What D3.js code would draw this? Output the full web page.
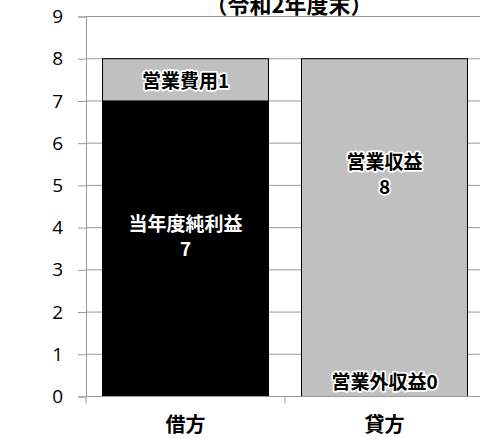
<!DOCTYPE html>
<html><head><meta charset="utf-8">
<script src="https://cdn.jsdelivr.net/npm/d3@7"></script>
<style>body{margin:0;background:#fff}svg{display:block}</style>
</head><body><svg id="c" width="480" height="438"></svg>
<script>
const categories = ["借方", "貸方"];
const seriesNames = ["当年度純利益", "営業費用", "営業収益", "営業外収益"];
const debitValues = [7, 1];      // 当年度純利益, 営業費用
const creditValues = [8, 0];     // 営業収益, 営業外収益
const yTicks = [0,1,2,3,4,5,6,7,8,9];
const title = "（令和2年度末）";

(function(){
const svg = d3.select("#c");
const mLeft = 86, mRight = 484, mTop = 16.5, mBottom = 396.5;
const x = d3.scaleBand().domain(categories).range([mLeft, mRight]).paddingInner(0.166).paddingOuter(0.083);
const y = d3.scaleLinear().domain([0, 9]).range([mBottom, mTop]);
const grid = "#9a9a9a";
const jp = "'Noto Sans CJK JP', sans-serif";

// gridlines
svg.append("g").selectAll("line").data(yTicks.filter(d=>d>0)).join("line")
  .attr("x1", mLeft).attr("x2", 480).attr("y1", d=>y(d)).attr("y2", d=>y(d))
  .attr("stroke", grid).attr("stroke-width", 1);

// y axis
const ya = svg.append("g").attr("transform", `translate(${mLeft},0)`)
  .call(d3.axisLeft(y).tickValues(yTicks).tickSize(8).tickPadding(15));
ya.select(".domain").attr("stroke", grid);
ya.selectAll(".tick line").attr("stroke", grid);
ya.selectAll("text").attr("font-family", "'Open Sans', 'Liberation Sans', sans-serif")
  .attr("font-size", 19).attr("fill", "#000");

// stacks
const stacks = [
  {cat: categories[0], segs: [{name: seriesNames[0], v: debitValues[0], fill: "#000"}, {name: seriesNames[1], v: debitValues[1], fill: "#c0c0c0"}]},
  {cat: categories[1], segs: [{name: seriesNames[2], v: creditValues[0], fill: "#c0c0c0"}, {name: seriesNames[3], v: creditValues[1], fill: "#c0c0c0"}]}
];
stacks.forEach(s => {
  let acc = 0;
  s.segs.forEach(seg => { seg.y0 = acc; acc += seg.v; seg.y1 = acc; });
});
const gb = svg.append("g");
stacks.forEach(s => {
  gb.selectAll(null).data(s.segs.filter(d=>d.v>0)).join("rect")
    .attr("x", x(s.cat)).attr("width", x.bandwidth())
    .attr("y", d=>y(d.y1)).attr("height", d=>y(d.y0)-y(d.y1))
    .attr("fill", d=>d.fill).attr("stroke", "#000").attr("stroke-width", 1);
});

// x axis baseline
svg.append("line").attr("x1", mLeft).attr("x2", 480).attr("y1", mBottom).attr("y2", mBottom).attr("stroke", grid);
const bounds = [mLeft, x(categories[1]) - x.step()*x.paddingInner()/2];
svg.selectAll(null).data(bounds).join("line")
  .attr("x1", d=>d).attr("x2", d=>d).attr("y1", mBottom).attr("y2", mBottom+7).attr("stroke", grid);

// category labels
svg.selectAll(null).data(categories).join("text")
  .attr("x", d=>x(d)+x.bandwidth()/2).attr("y", 432)
  .attr("text-anchor", "middle").attr("font-family", jp)
  .attr("font-weight", "bold").attr("font-size", 20).text(d=>d);

// title
svg.append("text").attr("x", 289).attr("y", 13).attr("text-anchor", "middle")
  .attr("font-family", jp).attr("font-weight", "bold")
  .attr("font-size", 22).text(title);

// bar labels
function label(cx, cyVal, txt, white) {
  const t = svg.append("text").attr("x", cx).attr("y", y(cyVal)).attr("text-anchor", "middle")
    .attr("dominant-baseline", "central")
    .attr("font-family", jp).attr("font-weight", "bold")
    .attr("font-size", 19).attr("fill", white ? "#fff" : "#000").text(txt);
  if (!white) t.attr("stroke", "#fff").attr("stroke-width", 3.5).attr("stroke-linejoin", "round")
    .attr("paint-order", "stroke");
}
const c0 = x(categories[0]) + x.bandwidth()/2, c1 = x(categories[1]) + x.bandwidth()/2;
label(c0, (stacks[0].segs[1].y0 + stacks[0].segs[1].y1)/2, seriesNames[1] + debitValues[1], false);
label(c0, 4.13, seriesNames[0], true);
label(c0, 3.54, String(debitValues[0]), true);
label(c1, 5.59, seriesNames[2], false);
label(c1, 5.0, String(creditValues[0]), false);
label(c1, 0.38, seriesNames[3] + creditValues[1], false);
})();
</script></body></html>
